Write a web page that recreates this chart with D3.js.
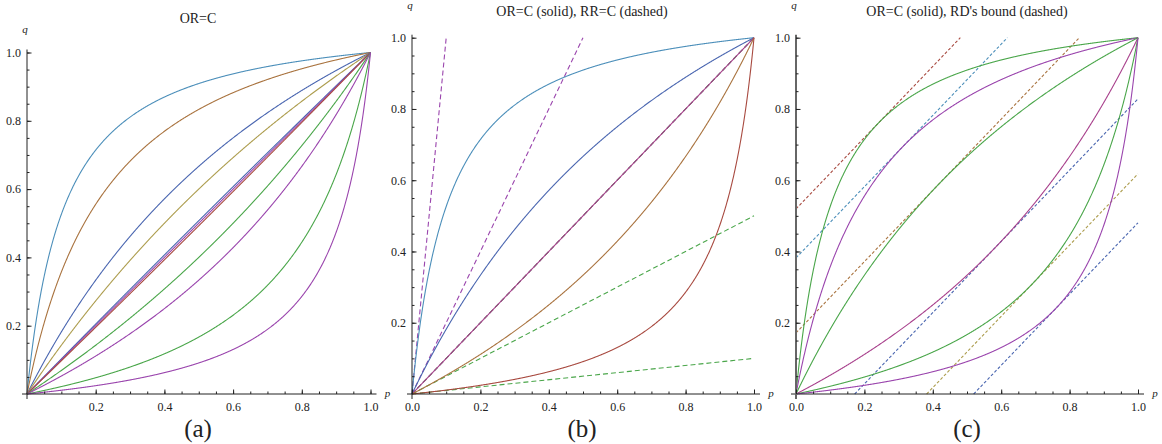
<!DOCTYPE html>
<meta charset="utf-8">
<style>
    body { margin: 0; background: #fff; }
    svg text { font-family: "Liberation Serif", "Times New Roman", serif !important; fill: #222; }
</style>
<svg width="1162" height="444"></svg>
<script src="https://d3js.org/d3.v7.min.js"></script>
<script>
    // odds ratio constants, one curve per value
    var orA = [10, 5, 2, 1.5, 1.03, 1, 1 / 1.03, 1 / 1.5, 1 / 2, 1 / 5, 1 / 10];
    var orB = [10, 2, 1, 1 / 2, 1 / 10];
    var rrB = [10, 2, 1, 1, 1 / 2, 1 / 10];
    var orC = [10, 5, 2, 1 / 2, 1 / 5, 1 / 10];

    var titles = ["OR=C", "OR=C (solid), RR=C (dashed)", "OR=C (solid), RD's bound (dashed)"];
    var captions = ["(a)", "(b)", "(c)"];
    var xTicksA = [0.2, 0.4, 0.6, 0.8, 1.0],
        xTicksBC = [0.0, 0.2, 0.4, 0.6, 0.8, 1.0],
        yTicks = [0.2, 0.4, 0.6, 0.8, 1.0],
        minorTicks = d3.range(1, 21).map(function (i) { return i / 20; });

    var TEAL = "#4c8fba", BROWN = "#a9733f", BLUE = "#4a66b0", OLIVE = "#ad9d4e",
        PURPLE = "#9a45ad", GREEN = "#4aa64a", RED = "#a84a40", MAGENTA = "#a8408c";

    var colA = [TEAL, BROWN, BLUE, OLIVE, BLUE, PURPLE, RED, GREEN, PURPLE, GREEN, PURPLE],
        colB = [TEAL, BLUE, MAGENTA, BROWN, RED],
        colRR = [PURPLE, PURPLE, PURPLE, GREEN, GREEN, GREEN],
        colC = [GREEN, PURPLE, GREEN, MAGENTA, GREEN, PURPLE],
        colRD = [RED, TEAL, BROWN, BLUE, OLIVE, BLUE];

    var svg = d3.select("svg");

    var panels = [
        {x0: 27, x1: 370.5, y0: 394, y1: 52.5, cx: 198, ty: 23, qy: 33, xt: xTicksA, axisCol: "#222", axisW: 1},
        {x0: 412, x1: 754, y0: 394, y1: 37.7, cx: 582, ty: 16, qy: 9, xt: xTicksBC, axisCol: "#222", axisW: 1},
        {x0: 796, x1: 1138, y0: 394, y1: 37.7, cx: 967, ty: 16, qy: 9, xt: xTicksBC, axisCol: "#666", axisW: 2}
    ];

    panels.forEach(function (P) {
        P.x = d3.scaleLinear().domain([0, 1]).range([P.x0, P.x1]);
        P.y = d3.scaleLinear().domain([0, 1]).range([P.y0, P.y1]);
        P.g = svg.append("g");
    });

    function orCurve(P, c) {
        var pts = d3.range(0, 1001).map(function (i) {
            var p = i / 1000;
            return [p, c * p / (1 - p + c * p)];
        });
        return d3.line().x(function (d) { return P.x(d[0]); }).y(function (d) { return P.y(d[1]); })(pts);
    }

    function drawCurves(P, cs, cols) {
        P.g.selectAll(null).data(cs).enter().append("path")
            .attr("d", function (c) { return orCurve(P, c); })
            .attr("fill", "none")
            .attr("stroke", function (c, i) { return cols[i]; })
            .attr("stroke-width", 1.1);
    }

    function drawSegs(P, segs, cols, dash) {
        P.g.selectAll(null).data(segs).enter().append("line")
            .attr("x1", function (s) { return P.x(s[0]); })
            .attr("y1", function (s) { return P.y(s[1]); })
            .attr("x2", function (s) { return P.x(s[2]); })
            .attr("y2", function (s) { return P.y(s[3]); })
            .attr("stroke", function (s, i) { return cols[i]; })
            .attr("stroke-width", 1.1)
            .attr("stroke-dasharray", dash);
    }

    // panel a
    drawCurves(panels[0], orA, colA);

    // panel b: RR lines q = C p
    drawSegs(panels[1], rrB.map(function (c) {
        var pe = Math.min(1, 1 / c);
        return [0, 0, pe, c * pe];
    }), colRR, "5,3");
    drawCurves(panels[1], orB, colB);

    // panel c: RD bound q = p + d, d = (sqrt C - 1)/(sqrt C + 1)
    drawSegs(panels[2], orC.map(function (c) {
        var d = (Math.sqrt(c) - 1) / (Math.sqrt(c) + 1);
        var ps = Math.max(0, -d), pe = Math.min(1, 1 - d);
        return [ps, ps + d, pe, pe + d];
    }), colRD, "3,2");
    drawCurves(panels[2], orC, colC);

    function styleAxis(g) {
        g.select(".domain").remove();
        g.attr("font-family", "Liberation Serif, serif");
        g.selectAll("text").attr("font-size", 12).attr("fill", "#222");
        g.selectAll(".tick line").attr("stroke", "#222");
    }

    panels.forEach(function (P, k) {
        var ax = svg.append("g");

        // axis lines
        ax.append("line").attr("x1", P.x0 - 5).attr("x2", P.x1 + 6)
            .attr("y1", P.y0).attr("y2", P.y0)
            .attr("stroke", "#222").attr("stroke-width", 1);
        ax.append("line").attr("x1", P.x0).attr("x2", P.x0)
            .attr("y1", P.y0 + 5).attr("y2", P.y1 - 3)
            .attr("stroke", P.axisCol).attr("stroke-width", P.axisW);

        // minor ticks
        ax.append("g").attr("transform", "translate(0," + P.y0 + ")")
            .call(d3.axisBottom(P.x).tickValues(minorTicks).tickSize(-2.5).tickFormat(""))
            .call(styleAxis);
        ax.append("g").attr("transform", "translate(" + P.x0 + ",0)")
            .call(d3.axisLeft(P.y).tickValues(minorTicks).tickSize(-2.5).tickFormat(""))
            .call(styleAxis);

        // major ticks + labels
        ax.append("g").attr("transform", "translate(0," + P.y0 + ")")
            .call(d3.axisBottom(P.x).tickValues(P.xt).tickSize(-4.5).tickPadding(8).tickFormat(d3.format(".1f")))
            .call(styleAxis);
        ax.append("g").attr("transform", "translate(" + P.x0 + ",0)")
            .call(d3.axisLeft(P.y).tickValues(yTicks).tickSize(-4.5).tickPadding(6).tickFormat(d3.format(".1f")))
            .call(styleAxis);

        // axis names
        ax.append("text").attr("x", P.x0 - 2).attr("y", P.qy)
            .attr("text-anchor", "middle").attr("font-size", 11).attr("font-style", "italic").text("q");
        ax.append("text").attr("x", P.x1 + 17).attr("y", P.y0 + 3)
            .attr("text-anchor", "middle").attr("font-size", 11).attr("font-style", "italic").text("p");

        // title and caption
        ax.append("text").attr("x", P.cx).attr("y", P.ty)
            .attr("text-anchor", "middle").attr("font-size", 14).text(titles[k]);
        ax.append("text").attr("x", P.cx).attr("y", 437)
            .attr("text-anchor", "middle").attr("font-size", 25).text(captions[k]);
    });
</script>
